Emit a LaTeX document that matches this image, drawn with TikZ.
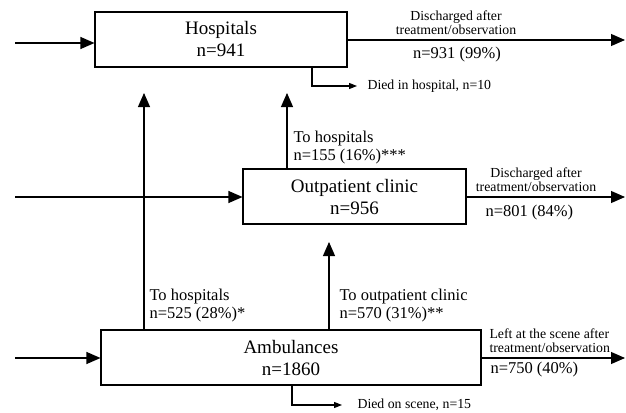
\documentclass[tikz,border=0pt]{standalone}
\usepackage{fontspec}
\setmainfont{Liberation Serif}
\usetikzlibrary{arrows.meta,positioning}

\begin{document}
\begin{tikzpicture}[x=1pt, y=-1pt, line width=1.1pt,
  every node/.style={font=\fontsize{16.5}{18}\selectfont, align=left, inner sep=0pt},
  unit/.style={draw, font=\fontsize{19}{22}\selectfont, align=center, minimum height=55pt},
  flow/.style={-{Triangle[length=14pt,width=12pt]}},
  exitflow/.style={-{Triangle[length=8pt,width=6pt]}},
  note/.style={font=\fontsize{13.8}{14}\selectfont, align=center}]
  \useasboundingbox (0,0) rectangle (626,412);

  % the three care levels
  \node[unit, minimum width=252pt] (hosp) at (221,39.5) {Hospitals\\n=941};
  \node[unit, minimum width=223pt] (outp) at (354.5,196.5) {Outpatient clinic\\n=956};
  \node[unit, minimum width=380pt] (amb) at (291,357.5) {Ambulances\\n=1860};

  % incoming patients
  \coordinate (inH) at (15,43);
  \coordinate (inO) at (15,197);
  \coordinate (inA) at (15,358);
  \draw[flow] (inH) -- (inH -| hosp.west);
  \draw[flow] (inO) -- (inO -| outp.west);
  \draw[flow] (inA) -- (inA -| amb.west);

  % leaving the system
  \coordinate (outH) at (625,40);
  \coordinate (outO) at (625,197);
  \coordinate (outA) at (625,358);
  \draw[flow] (outH -| hosp.east) -- (outH);
  \draw[flow] (outO -| outp.east) -- (outO);
  \draw[flow] (outA -| amb.east) -- (outA);
  \node[note] (dischH) at (456,23) {Discharged after\\treatment/observation};
  \node (nH) at (457,55) {n=931 (99\%)};
  \node[note] (dischO) at (536,180) {Discharged after\\treatment/observation};
  \node[anchor=west] (nO) at (485,213) {n=801 (84\%)};
  \node[note, align=left, anchor=west] (leftA) at (489,341) {Left at the scene after\\treatment/observation};
  \node[anchor=west] (nA) at (490,370) {n=750 (40\%)};

  % deaths
  \node[note, anchor=west] (diedH) at (367,86) {Died in hospital, n=10};
  \node[note, anchor=west] (diedA) at (357,405) {Died on scene, n=15};
  \coordinate (dH) at (312,86);
  \coordinate (dA) at (292,405);
  \draw[exitflow] (dH |- hosp.south) |- ([xshift=-10pt]diedH.west);
  \draw[exitflow] (dA |- amb.south) |- ([xshift=-15pt]diedA.west);

  % transfers
  \coordinate (tipAH) at (144,93);
  \coordinate (tipOH) at (287,93);
  \coordinate (tipAO) at (329,242);
  \draw[flow] (tipAH |- amb.north) -- (tipAH);
  \draw[flow] (tipOH |- outp.north) -- (tipOH);
  \draw[flow] (tipAO |- amb.north) -- (tipAO);
  \node[anchor=west] (toHA) at (149,306) {To hospitals\\n=525 (28\%)*};
  \node[anchor=west] (toOA) at (339,306) {To outpatient clinic\\n=570 (31\%)**};
  \node[anchor=west] (toHO) at (293,148) {To hospitals\\n=155 (16\%)***};
\end{tikzpicture}
\end{document}
